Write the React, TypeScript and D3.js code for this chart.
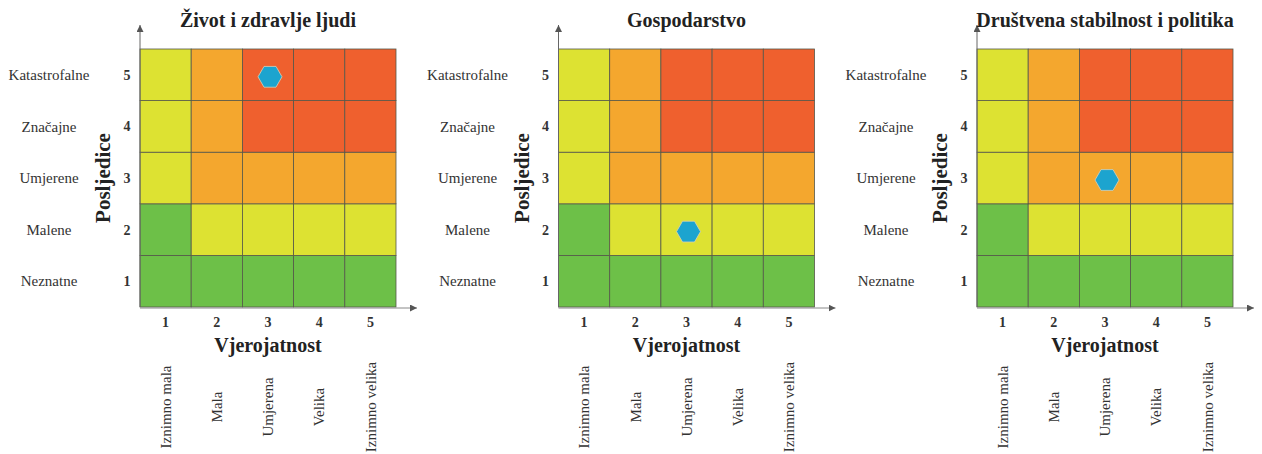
import { useEffect, useRef } from 'react'

import * as d3 from 'd3'

const panelTitles = ['Život i zdravlje ljudi', 'Gospodarstvo', 'Društvena stabilnost i politika']

const likelihoodScores = [1, 2, 3, 4, 5]
const likelihoodLabels = ['Iznimno mala', 'Mala', 'Umjerena', 'Velika', 'Iznimno velika']

const consequenceScores = [1, 2, 3, 4, 5]
const consequenceLabels = ['Neznatne', 'Malene', 'Umjerene', 'Značajne', 'Katastrofalne']

// risk level per cell: rows = consequence 1..5, columns = likelihood 1..5
const riskMatrix = [
  [1, 1, 1, 1, 1],
  [1, 2, 2, 2, 2],
  [2, 3, 3, 3, 3],
  [2, 3, 4, 4, 4],
  [2, 3, 4, 4, 4],
]
const riskColors = ['#6dc048', '#dde232', '#f4a72e', '#ef602e']

// assessed risk for each panel
const pointLikelihood = [3, 3, 3]
const pointConsequence = [5, 2, 3]

const W = 1262
const H = 454

const App = () => {
  const ref = useRef<SVGSVGElement>(null)

  useEffect(() => {
    const svg = d3.select(ref.current)
    svg.selectAll('*').remove()

    const font = "'Liberation Serif', 'Times New Roman', serif"
    const gridTop = 49
    const gridBottom = 307
    const gridWidth = 256
    const firstLeft = 140
    const panelStep = 418.5

    svg
      .append('defs')
      .append('marker')
      .attr('id', 'arrow')
      .attr('viewBox', '0 0 10 10')
      .attr('refX', 10)
      .attr('refY', 5)
      .attr('markerWidth', 7)
      .attr('markerHeight', 7)
      .attr('orient', 'auto')
      .append('path')
      .attr('d', 'M0,0 L10,5 L0,10 z')
      .attr('fill', '#555')

    // hexagon marker, flat top
    const hexR = 12
    const hexPath =
      d3.line()(d3.range(6).map((k) => [hexR * Math.cos((k * Math.PI) / 3), hexR * Math.sin((k * Math.PI) / 3)] as [number, number])) + 'Z'

    panelTitles.forEach((title, i) => {
      const left = firstLeft + panelStep * i
      const x = d3.scaleBand<number>().domain(likelihoodScores).range([left, left + gridWidth])
      const y = d3.scaleBand<number>().domain(consequenceScores).range([gridBottom, gridTop])
      const g = svg.append('g').attr('font-family', font)

      // cells
      consequenceScores.forEach((c, ci) => {
        likelihoodScores.forEach((l, li) => {
          g.append('rect')
            .attr('x', x(l)!)
            .attr('y', y(c)!)
            .attr('width', x.bandwidth())
            .attr('height', y.bandwidth())
            .attr('fill', riskColors[riskMatrix[ci][li] - 1])
            .attr('stroke', '#55584a')
            .attr('stroke-width', 0.8)
        })
      })

      // axes with arrows
      g.append('line')
        .attr('x1', left)
        .attr('x2', left)
        .attr('y1', gridBottom)
        .attr('y2', 25)
        .attr('stroke', '#666')
        .attr('stroke-width', 1)
        .attr('marker-end', 'url(#arrow)')
      g.append('line')
        .attr('x1', left)
        .attr('x2', left + gridWidth + 21)
        .attr('y1', gridBottom + 1)
        .attr('y2', gridBottom + 1)
        .attr('stroke', '#888')
        .attr('stroke-width', 1)
        .attr('marker-end', 'url(#arrow)')

      // title
      g.append('text')
        .attr('x', left + gridWidth / 2)
        .attr('y', 27)
        .attr('text-anchor', 'middle')
        .attr('font-size', 20)
        .attr('font-weight', 'bold')
        .attr('fill', '#222')
        .text(title)

      // y side: category labels and scores
      consequenceScores.forEach((c, ci) => {
        const cy = y(c)! + y.bandwidth() / 2
        g.append('text')
          .attr('x', left - 91)
          .attr('y', cy)
          .attr('dy', '0.35em')
          .attr('text-anchor', 'middle')
          .attr('font-size', 15)
          .attr('fill', '#333')
          .text(consequenceLabels[ci])
        g.append('text')
          .attr('x', left - 13)
          .attr('y', cy)
          .attr('dy', '0.35em')
          .attr('text-anchor', 'middle')
          .attr('font-size', 14)
          .attr('font-weight', 'bold')
          .attr('fill', '#333')
          .text(c)
      })

      g.append('text')
        .attr('transform', `translate(${left - 37},${(gridTop + gridBottom) / 2}) rotate(-90)`)
        .attr('dy', '0.35em')
        .attr('text-anchor', 'middle')
        .attr('font-size', 21)
        .attr('font-weight', 'bold')
        .attr('fill', '#222')
        .text('Posljedice')

      // x side: scores, title, category labels
      likelihoodScores.forEach((l, li) => {
        const cx = x(l)! + x.bandwidth() / 2
        g.append('text')
          .attr('x', cx)
          .attr('y', 327)
          .attr('text-anchor', 'middle')
          .attr('font-size', 14)
          .attr('font-weight', 'bold')
          .attr('fill', '#333')
          .text(l)
        g.append('text')
          .attr('transform', `translate(${cx},407) rotate(-90)`)
          .attr('dy', '0.35em')
          .attr('text-anchor', 'middle')
          .attr('font-size', 15)
          .attr('fill', '#333')
          .text(likelihoodLabels[li])
      })

      g.append('text')
        .attr('x', left + gridWidth / 2)
        .attr('y', 352)
        .attr('text-anchor', 'middle')
        .attr('font-size', 20)
        .attr('font-weight', 'bold')
        .attr('fill', '#222')
        .text('Vjerojatnost')

      // assessed risk
      g.append('path')
        .attr('d', hexPath)
        .attr(
          'transform',
          `translate(${x(pointLikelihood[i])! + x.bandwidth() / 2 + 2},${y(pointConsequence[i])! + y.bandwidth() / 2 + 2})`
        )
        .attr('fill', '#1ca4cf')
        .attr('stroke', '#d8d0b8')
        .attr('stroke-width', 0.8)
    })
  }, [])

  return (
    <div style={{ position: 'absolute', left: 0, top: 0, width: W, height: H, background: '#fff' }}>
      <svg ref={ref} width={W} height={H} />
    </div>
  )
}

export default App
